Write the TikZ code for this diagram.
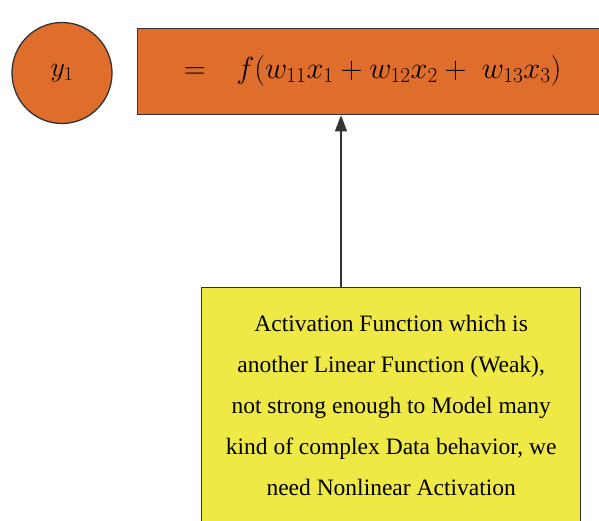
\documentclass[tikz,border=0pt]{standalone}
\usepackage{fix-cm}
\usepackage{fontspec}
\setmainfont{Liberation Serif}
\usetikzlibrary{shapes.geometric,arrows.meta}
\definecolor{obox}{HTML}{DF6D2C}
\definecolor{ybox}{HTML}{EFE946}
\definecolor{edge}{HTML}{333333}
\tikzset{
  orangeshape/.style={draw=edge,line width=1.3pt,fill=obox,inner sep=0pt},
  yellowshape/.style={draw=edge,line width=1.3pt,fill=ybox,inner sep=0pt},
  connector/.style={draw=edge,line width=1.3pt,-{Triangle[width=12pt,length=16pt]}}
}
\begin{document}
\begin{tikzpicture}[x=1pt,y=1pt]
\clip (0,0) rectangle (599,520);
\fill[white] (0,0) rectangle (599,520);
\node[orangeshape,ellipse,minimum width=100pt,minimum height=101pt] (y1) at (62,447)
  {\fontsize{28}{32}\selectfont\raisebox{6pt}{$y_1$}};
\node[orangeshape,rectangle,anchor=north west,minimum width=470pt,minimum height=86pt] (fbox) at (137,492)
  {\fontsize{30.5}{34}\selectfont\raisebox{10pt}{$=\hspace{22pt}f(w_{11}x_1+w_{12}x_2+\;w_{13}x_3)$}};
\node[yellowshape,rectangle,anchor=north west,minimum width=379pt,minimum height=240pt,align=center,
  font=\fontsize{23.5}{41}\selectfont] (act) at (201,233)
  {\raisebox{4pt}{Activation Function which is}\\\raisebox{4pt}{another Linear Function (Weak),}\\\raisebox{4pt}{not strong enough to Model many}\\\raisebox{4pt}{kind of complex Data behavior, we}\\\raisebox{4pt}{need Nonlinear Activation}};
\coordinate (ax) at (341,300);
\draw[connector] (act.north -| ax) -- (fbox.south -| ax);
\end{tikzpicture}
\end{document}
